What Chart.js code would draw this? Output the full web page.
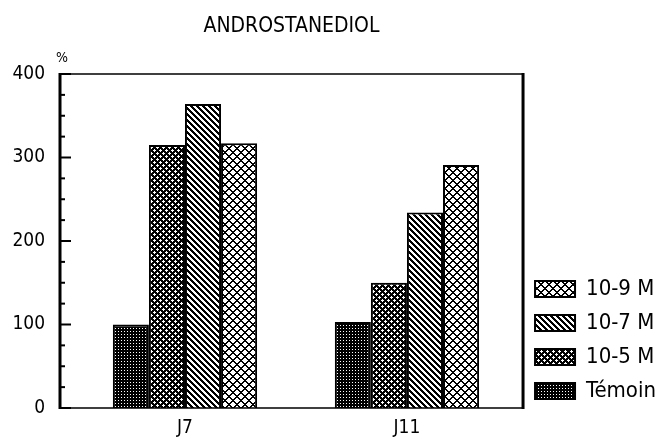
<!DOCTYPE html>
<html>
<head>
<meta charset="utf-8">
<script src="https://cdn.jsdelivr.net/npm/chart.js@4"></script>
<style>
  html, body { margin: 0; padding: 0; background: #fff; }
  #wrap { width: 660px; height: 441px; }
</style>
</head>
<body>
<div id="wrap"><canvas id="chart" width="660" height="441"></canvas></div>
<script>
const chartTitle = 'ANDROSTANEDIOL';
const categories = ['J7', 'J11'];
const seriesNames = ['Témoin', '10-5 M', '10-7 M', '10-9 M'];
const temoin = [100, 103];
const m5 = [315, 150];
const m7 = [364, 234];
const m9 = [317, 291];
const yTicks = [0, 100, 200, 300, 400];
const yMinorStep = 25;

const FONT = '"DejaVu Sans Condensed", "DejaVu Sans", sans-serif';

// bitmap fills, like the old plotter hatchings
function makePattern(size, isDark) {
  const c = document.createElement('canvas');
  c.width = size; c.height = size;
  const g = c.getContext('2d');
  const img = g.createImageData(size, size);
  for (let y = 0; y < size; y++) {
    for (let x = 0; x < size; x++) {
      const v = isDark(x, y) ? 0 : 255;
      const i = (y * size + x) * 4;
      img.data[i] = img.data[i + 1] = img.data[i + 2] = v;
      img.data[i + 3] = 255;
    }
  }
  g.putImageData(img, 0, 0);
  return g.createPattern(c, 'repeat');
}

const mod = (a, n) => ((a % n) + n) % n;
const fills = [
  makePattern(3, (x, y) => !(x === 1 && y === 1)),
  makePattern(6, (x, y) => mod(x + y, 6) < 3 || mod(x - y, 6) < 3),
  makePattern(6, (x, y) => mod(x - y, 6) < 3),
  makePattern(8, (x, y) => mod(x + y, 8) < 2 || mod(x - y, 8) < 2)
];
const values = [temoin, m5, m7, m9];

const frame = {
  id: 'frame',
  afterLayout(chart) {
    // x axis box is kept short so the legend sits higher; let its labels show below it
    chart.scales.x.bottom = chart.height;
  },
  afterDraw(chart) {
    const { ctx, chartArea: a } = chart;
    const y = chart.scales.y;
    ctx.save();
    ctx.strokeStyle = '#000';
    ctx.lineWidth = 1.5;
    ctx.beginPath();
    ctx.moveTo(a.left, a.top); ctx.lineTo(a.right, a.top);
    ctx.moveTo(a.left, a.bottom); ctx.lineTo(a.right, a.bottom);
    ctx.stroke();
    ctx.lineWidth = 3;
    ctx.beginPath();
    ctx.moveTo(a.left, a.top - 1); ctx.lineTo(a.left, a.bottom + 1);
    ctx.moveTo(a.right, a.top - 1); ctx.lineTo(a.right, a.bottom + 1);
    ctx.stroke();
    ctx.lineWidth = 2;
    for (let v = y.min; v <= y.max; v += yMinorStep) {
      const py = y.getPixelForValue(v);
      const len = yTicks.includes(v) ? 11 : 5;
      ctx.beginPath();
      ctx.moveTo(a.left, py); ctx.lineTo(a.left + len, py);
      ctx.stroke();
    }
    ctx.fillStyle = '#000';
    ctx.textAlign = 'center';
    ctx.textBaseline = 'middle';
    ctx.font = '14px ' + FONT;
    ctx.fillText('%', a.left + 2, a.top - 16);
    ctx.font = '21px ' + FONT;
    ctx.fillText(chartTitle, (a.left + a.right) / 2, 27);
    ctx.restore();
  }
};

new Chart(document.getElementById('chart'), {
  type: 'bar',
  data: {
    datasets: seriesNames.map((name, i) => ({
      label: name,
      data: values[i].map((v, k) => ({ x: k, y: v })),
      backgroundColor: fills[i],
      borderColor: '#000',
      borderWidth: 2,
      barPercentage: 1,
      categoryPercentage: 0.65
    }))
  },
  options: {
    responsive: false,
    animation: false,
    layout: { padding: { left: 8, right: -6, top: 74, bottom: 27 } },
    plugins: {
      legend: {
        position: 'right',
        align: 'end',
        reverse: true,
        labels: {
          color: '#000',
          boxWidth: 40,
          boxHeight: 16,
          padding: 12,
          font: { family: FONT, size: 22 }
        }
      },
      tooltip: { enabled: false }
    },
    scales: {
      x: {
        type: 'linear',
        offset: false,
        min: -0.563,
        max: 1.523,
        afterBuildTicks: s => { s.ticks = categories.map((_, k) => ({ value: k })); },
        afterFit: s => { s.height = 6; },
        grid: { display: false },
        border: { display: false },
        ticks: {
          color: '#000',
          padding: 1,
          autoSkip: false,
          maxRotation: 0,
          font: { family: FONT, size: 19 },
          callback: v => categories[v]
        }
      },
      y: {
        min: 0,
        max: 400,
        afterBuildTicks: s => { s.ticks = yTicks.map(v => ({ value: v })); },
        afterFit: s => { s.width = 52; },
        grid: { display: false },
        border: { display: false },
        ticks: { color: '#000', padding: 7, font: { family: FONT, size: 19 } }
      }
    }
  },
  plugins: [frame]
});
</script>
</body>
</html>
